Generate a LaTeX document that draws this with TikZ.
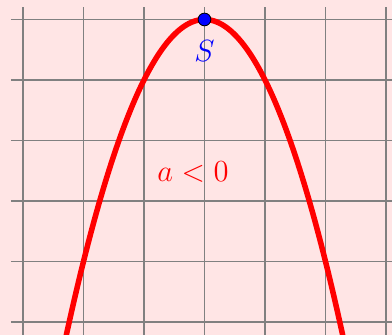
\documentclass[tikz,border=0pt]{standalone}
\usepackage{tikz}
\begin{document}
\begin{tikzpicture}[
  gridline/.style={gray, line width=0.5pt},
  curve/.style={red, line width=2.6pt},
  vertexdot/.style={circle, fill=blue, draw=black, line width=0.4pt, inner sep=0pt, minimum size=0.21cm},
  lbl/.style={font=\fontsize{14}{17}\selectfont}
]
\fill[red!10] (-3.38,0.322) rectangle (3.099,-5.215);
\useasboundingbox (-3.38,0.322) rectangle (3.099,-5.215);
\begin{scope}
\clip (-3.38,0.322) rectangle (3.099,-5.215);
\foreach \x in {-3,...,3} \draw[gridline] (\x,0.2) -- (\x,-5.4);
\foreach \y in {0,-1,...,-5} \draw[gridline] (-3.2,\y) -- (3.3,\y);
\draw[curve, domain=-2.35:2.35, samples=120, smooth] plot (\x,{-\x*\x});
\end{scope}
\node[vertexdot] (S) at (0,0) {};
\node[lbl, text=blue] (Slabel) at (0,-0.52) {$S$};
\node[lbl, text=red] (cond) at (-0.19,-2.52) {$a<0$};
\end{tikzpicture}
\end{document}
